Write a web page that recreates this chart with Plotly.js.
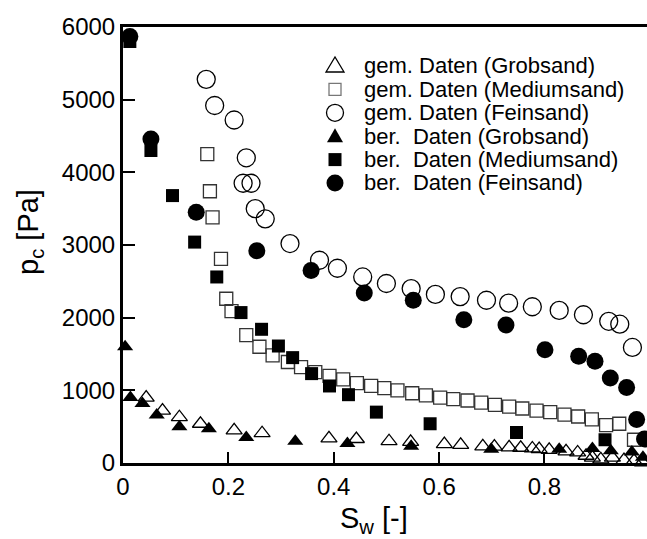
<!DOCTYPE html>
<html>
<head>
<meta charset="utf-8">
<script src="https://cdn.plot.ly/plotly-3.0.1.min.js"></script>
<style>html,body{margin:0;padding:0;background:#fff;}#chart{width:647px;height:539px;}</style>
</head>
<body>
<div id="chart"></div>
<script>
// ---- data ----
const grobGemX = [0.044, 0.075, 0.107, 0.147, 0.211, 0.264, 0.391, 0.443, 0.505, 0.546, 0.610, 0.641, 0.683, 0.705, 0.733, 0.755, 0.777, 0.790, 0.809, 0.841, 0.863, 0.879, 0.891, 0.907, 0.929, 0.951, 0.970, 0.986];
const grobGemY = [900, 720, 630, 540, 450, 410, 340, 330, 300, 290, 260, 250, 230, 225, 215, 210, 200, 190, 180, 160, 145, 100, 75, 50, 75, 40, 30, 10];

const medGemX = [0.160, 0.165, 0.170, 0.186, 0.196, 0.206, 0.234, 0.259, 0.284, 0.313, 0.338, 0.365, 0.392, 0.418, 0.444, 0.471, 0.496, 0.521, 0.549, 0.575, 0.602, 0.627, 0.654, 0.680, 0.706, 0.733, 0.758, 0.785, 0.811, 0.838, 0.864, 0.890, 0.917, 0.942, 0.970];
const medGemY = [4250, 3740, 3380, 2810, 2260, 2090, 1760, 1600, 1480, 1390, 1320, 1250, 1200, 1150, 1100, 1060, 1030, 1000, 960, 930, 900, 880, 860, 830, 800, 775, 750, 720, 700, 665, 640, 600, 520, 540, 320];

const feinGemX = [0.158, 0.174, 0.211, 0.234, 0.228, 0.243, 0.251, 0.270, 0.317, 0.373, 0.407, 0.455, 0.500, 0.547, 0.593, 0.640, 0.690, 0.732, 0.777, 0.828, 0.874, 0.922, 0.943, 0.967];
const feinGemY = [5280, 4920, 4720, 4200, 3850, 3850, 3500, 3360, 3020, 2790, 2680, 2560, 2470, 2400, 2320, 2290, 2240, 2200, 2150, 2100, 2040, 1950, 1910, 1590];

const grobBerX = [0.004, 0.014, 0.037, 0.064, 0.107, 0.163, 0.234, 0.327, 0.426, 0.547, 0.699, 0.828, 0.891, 0.926, 0.966, 0.987];
const grobBerY = [1600, 900, 820, 660, 500, 470, 350, 300, 270, 230, 190, 190, 200, 170, 150, 80];

const medBerX = [0.013, 0.053, 0.094, 0.136, 0.178, 0.224, 0.263, 0.295, 0.322, 0.358, 0.392, 0.428, 0.481, 0.583, 0.747, 0.915];
const medBerY = [5800, 4300, 3680, 3040, 2560, 2070, 1840, 1610, 1450, 1230, 1060, 940, 700, 540, 420, 320];

const feinBerX = [0.013, 0.053, 0.139, 0.254, 0.357, 0.458, 0.551, 0.647, 0.727, 0.801, 0.865, 0.896, 0.925, 0.956, 0.975, 0.990];
const feinBerY = [5870, 4460, 3450, 2920, 2650, 2340, 2240, 1970, 1900, 1560, 1470, 1400, 1170, 1040, 600, 330];

const seriesNames = ['gem. Daten (Grobsand)', 'gem. Daten (Mediumsand)', 'gem. Daten (Feinsand)',
                     'ber.\u00a0 Daten (Grobsand)', 'ber.\u00a0 Daten (Mediumsand)', 'ber.\u00a0 Daten (Feinsand)'];
const xTickVals = [0, 0.2, 0.4, 0.6, 0.8];
const xTickText = ['0', '0.2', '0.4', '0.6', '0.8'];
const yTickVals = [0, 1000, 2000, 3000, 4000, 5000, 6000];
const yTickText = ['0', '1000', '2000', '3000', '4000', '5000', '6000'];
const xTitle = 'S<sub>w</sub>\u00a0[-]';
const yTitle = 'p<sub>c</sub> [Pa]';

// ---- layout geometry ----
const W = 647, H = 539;
const M = {l: 123, r: 0, t: 27, b: 76};
const PW = W - M.l - M.r, PH = H - M.t - M.b;
const px2paperX = px => (px - M.l) / PW;
const px2paperY = py => (H - M.b - py) / PH;

const FONT = 'Liberation Sans, Arial, Helvetica, sans-serif';

function tr(x, y, name, symbol, size, filled, lineColor) {
  return {
    type: 'scatter', mode: 'markers', x: x, y: y, name: name,
    cliponaxis: false,
    marker: {
      symbol: symbol, size: size,
      color: filled ? '#000' : 'rgba(255,255,255,0)',
      line: {color: lineColor || '#000', width: filled ? 0 : 1.3}
    },
    showlegend: false
  };
}

const data = [
  tr(grobGemX, grobGemY, seriesNames[0], 'triangle-up', 14, false),
  tr(medGemX, medGemY, seriesNames[1], 'square', 13, false, '#333'),
  tr(feinGemX, feinGemY, seriesNames[2], 'circle', 18, false),
  tr(grobBerX, grobBerY, seriesNames[3], 'triangle-up', 14, true),
  tr(medBerX, medBerY, seriesNames[4], 'square', 13, true),
  tr(feinBerX, feinBerY, seriesNames[5], 'circle', 17, true)
];

// manual legend (tight rows as in the reference)
const legRows = [66, 89.4, 112.8, 136.2, 159.6, 183];
const legSymX = 335, legTextX = 362;
const annotations = seriesNames.map((n, i) => ({
  xref: 'paper', yref: 'paper', x: px2paperX(legTextX), y: px2paperY(legRows[i]),
  xanchor: 'left', yanchor: 'middle', showarrow: false, text: n,
  font: {family: FONT, size: 22, color: '#000'}
}));
annotations.push({
  xref: 'paper', yref: 'paper', x: px2paperX(30), y: px2paperY(232),
  xanchor: 'center', yanchor: 'middle', showarrow: false, textangle: -90,
  text: yTitle, font: {family: FONT, size: 29, color: '#000'}
});
annotations.push({
  xref: 'paper', yref: 'paper', x: px2paperX(374), y: px2paperY(520),
  xanchor: 'center', yanchor: 'middle', showarrow: false,
  text: xTitle, font: {family: FONT, size: 29, color: '#000'}
});

function symShape(i, type, pathOrHalf, filled, lineColor) {
  const s = {
    xref: 'paper', yref: 'paper', xsizemode: 'pixel', ysizemode: 'pixel',
    xanchor: px2paperX(legSymX), yanchor: px2paperY(legRows[i]),
    line: {color: lineColor || '#000', width: filled ? 0 : 1.3},
    fillcolor: filled ? '#000' : 'rgba(255,255,255,0)', layer: 'above'
  };
  if (type === 'path') { s.type = 'path'; s.path = pathOrHalf; }
  else { s.type = type; s.x0 = -pathOrHalf; s.x1 = pathOrHalf; s.y0 = -pathOrHalf; s.y1 = pathOrHalf; }
  return s;
}
const shapes = [
  symShape(0, 'path', 'M-9,-6 L9,-6 L0,9 Z', false),
  symShape(1, 'rect', 6, false, '#777'),
  symShape(2, 'circle', 8.5, false),
  symShape(3, 'path', 'M-8,-6 L8,-6 L0,8 Z', true),
  symShape(4, 'rect', 6.5, true),
  symShape(5, 'circle', 8.5, true)
];

const layout = {
  width: W, height: H,
  margin: M,
  paper_bgcolor: '#fff', plot_bgcolor: '#fff',
  font: {family: FONT, color: '#000'},
  showlegend: false,
  xaxis: {
    range: [0, PW / 526.8], tickvals: xTickVals, ticktext: xTickText,
    ticks: 'inside', ticklen: 11, tickwidth: 2, tickcolor: '#000',
    showline: true, linewidth: 3, linecolor: '#000', mirror: true,
    showgrid: false, zeroline: false,
    tickfont: {family: FONT, size: 24, color: '#000'}
  },
  yaxis: {
    range: [0, 6000], tickvals: yTickVals, ticktext: yTickText,
    ticks: 'inside', ticklen: 12, tickwidth: 2, tickcolor: '#000',
    showline: true, linewidth: 3, linecolor: '#000', mirror: false,
    showgrid: false, zeroline: false,
    tickfont: {family: FONT, size: 24, color: '#000'}
  },
  annotations: annotations,
  shapes: shapes
};

Plotly.newPlot('chart', data, layout, {displayModeBar: false, staticPlot: true});
</script>
</body>
</html>
